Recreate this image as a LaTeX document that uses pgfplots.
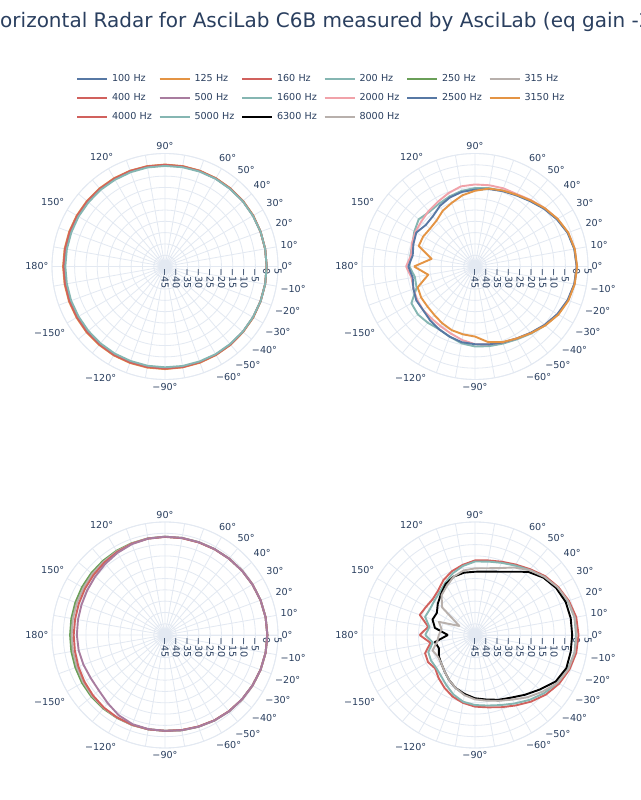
\documentclass[border=0pt]{standalone}
\usepackage{fontspec}
\setmainfont{DejaVu Sans}
\usepackage{pgfplots}
\usepackage{pgfplotstable}
\usepgfplotslibrary{polar}
\pgfplotsset{compat=1.18}

\definecolor{tblue}{HTML}{5778A4}
\definecolor{torange}{HTML}{E49444}
\definecolor{tred}{HTML}{D1615D}
\definecolor{tteal}{HTML}{85B6B2}
\definecolor{tgreen}{HTML}{6A9F58}
\definecolor{tgray}{HTML}{B8B0AC}
\definecolor{tpurple}{HTML}{A87C9F}
\definecolor{tpink}{HTML}{F1A2A9}
\definecolor{txt}{HTML}{2A3F5F}
\definecolor{gridc}{HTML}{E3E9F2}

% top-left: 100, 125, 160, 200 Hz (dB)
\pgfplotstableread{
a f1 f2 f3 f4
-180 -0.4 0.1 -0.1 -0.9
-170 -0.4 0.1 -0.1 -0.9
-160 -0.3 0.2 0.0 -0.8
-150 -0.3 0.2 0.0 -0.8
-140 -0.2 0.3 0.1 -0.7
-130 -0.2 0.3 0.1 -0.6
-120 -0.1 0.4 0.2 -0.5
-110 -0.1 0.4 0.2 -0.5
-100 0.0 0.4 0.2 -0.4
-90 0.0 0.4 0.2 -0.4
-80 0.0 0.3 0.2 -0.3
-70 0.0 0.3 0.1 -0.3
-60 0.0 0.2 0.1 -0.2
-50 0.0 0.2 0.1 -0.2
-40 0.0 0.1 0.0 -0.1
-30 0.0 0.1 0.0 -0.1
-20 0.0 0.0 0.0 0.0
-10 0.0 0.0 0.0 0.0
0 0.0 0.0 0.0 0.0
10 0.0 0.0 0.0 0.0
20 0.0 0.0 0.0 0.0
30 0.0 0.1 0.0 -0.1
40 0.0 0.1 0.0 -0.1
50 -0.1 0.1 0.0 -0.2
60 -0.1 0.1 0.0 -0.2
70 -0.1 0.1 0.0 -0.3
80 -0.1 0.1 0.0 -0.4
90 -0.2 0.1 0.0 -0.5
100 -0.2 0.1 0.0 -0.5
110 -0.2 0.1 0.0 -0.6
120 -0.3 0.1 -0.1 -0.7
130 -0.3 0.1 -0.1 -0.7
140 -0.3 0.1 -0.1 -0.8
150 -0.4 0.1 -0.1 -0.8
160 -0.4 0.1 -0.1 -0.9
170 -0.4 0.1 -0.1 -0.9
180 -0.4 0.1 -0.1 -0.9
}\tabTL

% top-right: 1600, 2000, 2500, 3150 Hz
\pgfplotstableread{
a f1 f2 f3 f4
-180 -16.0 -14.5 -15.5 -18.0
-170 -18.0 -16.5 -17.0 -24.0
-160 -17.5 -16.0 -16.0 -18.0
-150 -12.5 -15.5 -15.0 -17.5
-140 -12.0 -15.0 -15.0 -17.5
-130 -12.5 -15.0 -14.0 -17.0
-120 -13.0 -14.5 -13.0 -16.0
-110 -12.0 -13.5 -12.0 -15.0
-100 -10.5 -12.0 -11.0 -14.5
-90 -9.6 -10.6 -10.6 -14.0
-80 -9.2 -10.0 -10.0 -11.0
-70 -8.7 -9.2 -9.2 -9.4
-60 -7.8 -8.2 -8.2 -8.2
-50 -6.3 -6.6 -6.7 -6.5
-40 -4.5 -4.7 -4.8 -4.4
-30 -2.6 -2.8 -2.9 -2.4
-20 -1.2 -1.3 -1.4 -1.0
-10 -0.3 -0.3 -0.4 -0.2
0 0.0 0.0 0.0 0.2
10 -0.3 -0.2 -0.4 -0.2
20 -1.3 -1.2 -1.4 -1.1
30 -3.0 -2.9 -3.2 -2.8
40 -5.0 -4.8 -5.2 -4.8
50 -7.0 -6.6 -7.2 -6.8
60 -8.5 -8.0 -8.6 -8.3
70 -9.3 -8.2 -9.5 -9.2
80 -9.8 -8.5 -10.2 -10.0
90 -10.3 -8.7 -11.0 -11.5
100 -11.0 -9.0 -11.5 -13.0
110 -12.0 -10.5 -12.5 -15.0
120 -13.0 -12.0 -14.0 -16.5
130 -13.5 -13.0 -16.0 -18.5
140 -12.5 -14.0 -16.5 -19.0
150 -14.0 -14.5 -15.0 -18.5
160 -15.5 -15.3 -16.0 -18.5
170 -16.0 -16.3 -17.0 -25.5
180 -16.0 -14.5 -15.5 -18.0
}\tabTR

% bottom-left: 250, 315, 400, 500 Hz
\pgfplotstableread{
a f1 f2 f3 f4
-180 -3.0 -3.7 -4.6 -6.0
-170 -2.9 -3.6 -4.5 -6.2
-160 -2.8 -3.5 -4.2 -6.6
-150 -2.6 -3.2 -3.8 -7.0
-140 -2.5 -3.0 -3.4 -6.8
-130 -2.5 -2.8 -3.0 -5.6
-120 -2.6 -2.7 -2.8 -4.0
-110 -2.6 -2.6 -2.7 -3.0
-100 -2.6 -2.6 -2.6 -2.7
-90 -2.6 -2.6 -2.6 -2.6
-80 -2.2 -2.2 -2.3 -2.2
-70 -1.8 -1.8 -1.9 -1.8
-60 -1.3 -1.3 -1.4 -1.3
-50 -0.9 -0.9 -1.0 -0.9
-40 -0.6 -0.6 -0.6 -0.6
-30 -0.3 -0.3 -0.3 -0.3
-20 0.0 0.0 0.0 0.0
-10 0.2 0.2 0.2 0.2
0 0.3 0.3 0.3 0.3
10 0.2 0.2 0.2 0.2
20 0.0 0.0 0.0 0.0
30 -0.3 -0.3 -0.3 -0.3
40 -0.6 -0.6 -0.6 -0.6
50 -0.9 -0.9 -0.9 -0.9
60 -1.1 -1.1 -1.2 -1.1
70 -1.3 -1.3 -1.4 -1.3
80 -1.4 -1.4 -1.5 -1.4
90 -1.5 -1.5 -1.6 -1.5
100 -1.6 -1.6 -1.7 -1.7
110 -1.8 -1.9 -2.0 -2.2
120 -2.0 -2.3 -2.6 -3.0
130 -2.2 -2.7 -3.2 -3.9
140 -2.4 -3.0 -3.7 -4.7
150 -2.6 -3.3 -4.1 -5.3
160 -2.8 -3.5 -4.4 -5.7
170 -2.9 -3.6 -4.6 -5.9
180 -3.0 -3.7 -4.6 -6.0
}\tabBL

% bottom-right: 4000, 5000, 6300, 8000 Hz
\pgfplotstableread{
a f1 f2 f3 f4
-180 -20.5 -23.0 -33.0 -29.0
-170 -25.0 -26.0 -27.0 -28.0
-160 -21.5 -23.0 -28.0 -25.0
-150 -21.0 -22.5 -26.5 -26.0
-140 -22.0 -22.5 -25.5 -25.5
-130 -20.0 -21.5 -24.0 -24.0
-120 -18.0 -19.5 -22.0 -22.0
-110 -16.0 -17.0 -20.0 -20.0
-100 -14.5 -15.0 -18.5 -18.0
-90 -13.3 -14.0 -17.0 -16.5
-80 -12.5 -13.3 -16.0 -15.5
-70 -11.0 -12.0 -14.5 -14.0
-60 -9.0 -10.0 -13.0 -12.0
-50 -6.5 -7.5 -10.5 -9.0
-40 -4.0 -5.0 -7.5 -6.0
-30 -2.0 -2.8 -3.8 -2.8
-20 -0.5 -1.2 -2.0 -1.0
-10 0.5 -0.3 -2.0 -0.2
0 0.8 -0.3 -2.0 0.0
10 0.5 -0.3 -2.0 -0.2
20 -0.8 -1.3 -2.3 -1.2
30 -2.5 -3.0 -3.5 -2.8
40 -4.5 -5.0 -5.5 -5.0
50 -7.0 -7.5 -8.5 -7.5
60 -9.0 -9.5 -12.7 -10.5
70 -10.5 -11.0 -15.2 -13.5
80 -11.5 -12.0 -16.5 -15.0
90 -12.0 -12.5 -17.0 -15.5
100 -13.5 -14.0 -17.0 -16.0
110 -15.0 -16.0 -17.5 -17.5
120 -17.0 -18.5 -19.0 -20.0
130 -19.5 -20.5 -21.5 -22.0
140 -20.5 -21.5 -23.5 -26.0
150 -20.0 -22.0 -25.5 -37.0
160 -19.0 -21.5 -25.0 -28.0
170 -24.0 -24.5 -27.0 -30.0
180 -20.5 -23.0 -33.0 -29.0
}\tabBR

\pgfplotsset{
  radar/.style={
    scale only axis, width=226pt, height=226pt, anchor=center,
    ymin=0, ymax=50,
    xtick={0,10,...,350},
    xticklabels={0°,10°,20°,30°,40°,50°,60°,{},{},90°,{},{},120°,{},{},150°,{},{},180°,{},{},−150°,{},{},−120°,{},{},−90°,{},{},−60°,−50°,−40°,−30°,−20°,−10°},
    ytick={0,5,...,50},
    yticklabels={−45,−40,−35,−30,−25,−20,−15,−10,−5,0,5},
    grid=major,
    major grid style={draw=gridc, line width=0.8pt},
    axis line style={draw=gridc, line width=0.8pt},
    major tick length=0pt,
    ticklabel style={font=\fontsize{9.6}{11}\selectfont, text=txt},
    yticklabel style={rotate=-90, anchor=west, inner sep=2pt},
    every axis plot/.append style={line width=1.9pt, line join=round, mark=none},
  },
}

\begin{document}
\begin{tikzpicture}[x=1pt,y=1pt]
\useasboundingbox (0,0) rectangle (640,800);
\clip (0,0) rectangle (640,800);
\fill[white] (0,0) rectangle (640,800);

\node[anchor=base west, inner sep=0pt, font=\fontsize{20}{24}\selectfont, text=txt] at (-15,772)
  {Horizontal Radar for AsciLab C6B measured by AsciLab (eq gain -2dB)};

% legend
\begin{axis}[hide axis, scale only axis, width=1pt, height=1pt,
  at={(76pt,725.5pt)}, anchor=north west,
  xmin=0, xmax=1, ymin=0, ymax=1,
  legend columns=6, legend cell align=left,
  legend image code/.code={\draw[#1] (0pt,0pt) -- (30pt,0pt);},
  legend image post style={line width=2pt},
  legend style={at={(0,1)}, anchor=north west, draw=none, fill=none, inner sep=0pt, outer sep=0pt,
    /tikz/row sep=10pt, /tikz/column sep=0pt,
    /tikz/every odd column/.append style={column sep=4pt},
    font=\fontsize{9.6}{11}\selectfont, text=txt,
    nodes={inner sep=0pt, text height=7pt, text depth=2pt, text width=46.5pt, text=txt}},
]
\addlegendimage{tblue}\addlegendentry{100 Hz}
\addlegendimage{torange}\addlegendentry{125 Hz}
\addlegendimage{tred}\addlegendentry{160 Hz}
\addlegendimage{tteal}\addlegendentry{200 Hz}
\addlegendimage{tgreen}\addlegendentry{250 Hz}
\addlegendimage{tgray}\addlegendentry{315 Hz}
\addlegendimage{tred}\addlegendentry{400 Hz}
\addlegendimage{tpurple}\addlegendentry{500 Hz}
\addlegendimage{tteal}\addlegendentry{1600 Hz}
\addlegendimage{tpink}\addlegendentry{2000 Hz}
\addlegendimage{tblue}\addlegendentry{2500 Hz}
\addlegendimage{torange}\addlegendentry{3150 Hz}
\addlegendimage{tred}\addlegendentry{4000 Hz}
\addlegendimage{tteal}\addlegendentry{5000 Hz}
\addlegendimage{black}\addlegendentry{6300 Hz}
\addlegendimage{tgray}\addlegendentry{8000 Hz}
\end{axis}

\begin{polaraxis}[radar, at={(165pt,533.5pt)}]
\addplot[tblue] table[x=a, y expr=\thisrow{f1}+45]{\tabTL};
\addplot[torange] table[x=a, y expr=\thisrow{f2}+45]{\tabTL};
\addplot[tred] table[x=a, y expr=\thisrow{f3}+45]{\tabTL};
\addplot[tteal] table[x=a, y expr=\thisrow{f4}+45]{\tabTL};
\end{polaraxis}

\begin{polaraxis}[radar, at={(475pt,533.5pt)}]
\addplot[tteal] table[x=a, y expr=\thisrow{f1}+45]{\tabTR};
\addplot[tpink] table[x=a, y expr=\thisrow{f2}+45]{\tabTR};
\addplot[tblue] table[x=a, y expr=\thisrow{f3}+45]{\tabTR};
\addplot[torange] table[x=a, y expr=\thisrow{f4}+45]{\tabTR};
\end{polaraxis}

\begin{polaraxis}[radar, at={(165pt,165pt)}]
\addplot[tgreen] table[x=a, y expr=\thisrow{f1}+45]{\tabBL};
\addplot[tgray] table[x=a, y expr=\thisrow{f2}+45]{\tabBL};
\addplot[tred] table[x=a, y expr=\thisrow{f3}+45]{\tabBL};
\addplot[tpurple] table[x=a, y expr=\thisrow{f4}+45]{\tabBL};
\end{polaraxis}

\begin{polaraxis}[radar, at={(475pt,165pt)}]
\addplot[tred] table[x=a, y expr=\thisrow{f1}+45]{\tabBR};
\addplot[tteal] table[x=a, y expr=\thisrow{f2}+45]{\tabBR};
\addplot[black] table[x=a, y expr=\thisrow{f3}+45]{\tabBR};
\addplot[tgray] table[x=a, y expr=\thisrow{f4}+45]{\tabBR};
\end{polaraxis}
\end{tikzpicture}
\end{document}
